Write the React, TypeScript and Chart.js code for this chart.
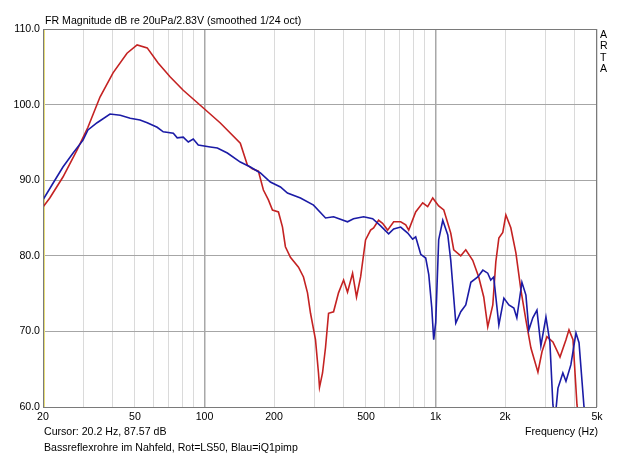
import React, { useEffect, useRef } from "react";
import { Chart, registerables } from "chart.js";

Chart.register(...registerables);

// ---- data (frequency in Hz, level in dB) ----
const redFreq = [20, 21.4, 24.4, 28.1, 31.3, 35.3, 40.2, 46.2, 51.1, 56.5, 63.0, 71.1, 80.9, 98.9, 117.1, 142.9, 153.3, 161.1, 171.1, 179.9, 189.1, 196.9, 209, 217.6, 224, 235.5, 255.2, 268.2, 279.2, 287.7, 302.3, 311.5, 314.7, 324.3, 334.2, 344.4, 362, 380.3, 400, 416, 437.5, 455, 474, 497.9, 523.6, 539.5, 567, 590, 620.6, 659, 706.5, 743, 765.6, 820.6, 880, 924.9, 972.7, 1032, 1086, 1164, 1199, 1286, 1352, 1449, 1538, 1617, 1683, 1770, 1824, 1880, 1955, 2016, 2118, 2228, 2342, 2462, 2588, 2775, 2890, 3035, 3222, 3458, 3670, 3782, 3936, 4095, 4180];
const redDb = [86.45, 87.65, 90.42, 94.0, 97.0, 101.0, 104.2, 106.8, 107.9, 107.5, 105.5, 103.65, 101.9, 99.55, 97.57, 94.9, 92.0, 91.5, 91.2, 88.7, 87.4, 86.06, 85.8, 83.8, 81.2, 79.8, 78.5, 77.2, 75.1, 72.4, 68.9, 64.5, 62.6, 64.5, 67.9, 72.4, 72.6, 75.1, 76.8, 75.2, 77.7, 74.55, 77.2, 82.1, 83.4, 83.7, 84.7, 84.3, 83.4, 84.5, 84.5, 84.1, 83.4, 85.8, 87.0, 86.5, 87.65, 86.6, 86.06, 83.0, 80.8, 80.0, 80.8, 79.4, 77.2, 74.55, 70.6, 73.5, 79.2, 82.35, 83.1, 85.4, 83.7, 80.4, 75.5, 71.5, 67.8, 64.6, 67.3, 69.3, 68.6, 66.6, 68.9, 70.2, 68.9, 60.3, 58.3];

const blueFreq = [20, 22.1, 24.4, 27.0, 29.8, 31.3, 34.3, 39.0, 43.2, 47.7, 52.6, 56.5, 62.4, 66.3, 73.3, 76.2, 80.9, 85.1, 89.4, 94.0, 105.9, 113.7, 125.6, 142.9, 158.0, 174.6, 192.8, 213.2, 228.6, 260.3, 296.5, 334.2, 362, 416, 441.6, 488.4, 534.4, 578.7, 626.7, 659, 706.5, 758, 796, 820.6, 863, 907, 935, 963, 982, 1002, 1032, 1075, 1130, 1164, 1224, 1286, 1352, 1422, 1524, 1603, 1683, 1734, 1786, 1880, 1977, 2077, 2183, 2249, 2366, 2462, 2535, 2637, 2748, 2858, 3006, 3126, 3222, 3290, 3389, 3558, 3670, 3855, 4055, 4180, 4393, 4500];
const blueDb = [87.4, 89.6, 91.75, 93.6, 95.3, 96.65, 97.6, 98.76, 98.6, 98.2, 97.96, 97.6, 97.0, 96.4, 96.2, 95.6, 95.7, 95.05, 95.45, 94.66, 94.4, 94.26, 93.6, 92.4, 91.75, 90.95, 89.75, 89.1, 88.3, 87.65, 86.7, 85.0, 85.16, 84.5, 84.9, 85.16, 84.9, 83.96, 82.9, 83.55, 83.8, 83.0, 82.2, 82.5, 80.2, 79.7, 77.5, 73.2, 68.9, 71.2, 82.1, 84.7, 82.75, 79.4, 71.1, 72.6, 73.5, 76.5, 77.2, 78.1, 77.7, 76.8, 77.2, 70.85, 74.4, 73.5, 73.1, 71.8, 76.5, 74.8, 70.2, 71.8, 72.8, 68.1, 71.9, 68.6, 60.3, 58.3, 62.5, 64.5, 63.4, 65.6, 69.8, 68.5, 60.0, 58.3];

const cursorFreq = [20.2, 20.2];
const cursorDb = [60, 110];

const gridFreqs = [20, 30, 40, 50, 60, 70, 80, 90, 100, 200, 300, 400, 500, 600, 700, 800, 900, 1000, 2000, 3000, 4000, 5000];
const labelFreqs = [20, 50, 100, 200, 500, 1000, 2000, 5000];
const labelTexts = ["20", "50", "100", "200", "500", "1k", "2k", "5k"];
const decadeFreqs = [100, 1000];

const titleText = "FR Magnitude dB re 20uPa/2.83V (smoothed 1/24 oct)";
const cursorText = "Cursor: 20.2 Hz, 87.57 dB";
const noteText = "Bassreflexrohre im Nahfeld, Rot=LS50, Blau=iQ1pimp";
const xTitleText = "Frequency (Hz)";
const sideLetters = ["A", "R", "T", "A"];

const FONT_FAMILY = "'Liberation Sans', Arial, sans-serif";
const FONT_SIZE = 10.6;

const toPts = (xs: number[], ys: number[]) => xs.map((x, i) => ({ x, y: ys[i] }));

const textPlugin = {
  id: "artaTexts",
  afterDraw(chart: any) {
    const { ctx, chartArea } = chart;
    ctx.save();
    // plot frame
    ctx.strokeStyle = "#7a7a7a";
    ctx.lineWidth = 1;
    ctx.strokeRect(
      Math.round(chartArea.left) + 0.5,
      Math.round(chartArea.top) + 0.5,
      Math.round(chartArea.right - chartArea.left) - 1,
      Math.round(chartArea.bottom - chartArea.top)
    );
    ctx.fillStyle = "#000";
    ctx.font = `${FONT_SIZE}px ${FONT_FAMILY}`;
    ctx.textBaseline = "middle";
    ctx.textAlign = "left";
    ctx.fillText(titleText, chartArea.left + 2, chartArea.top - 8);
    ctx.fillText(cursorText, chartArea.left + 1, chartArea.bottom + 25);
    ctx.fillText(noteText, chartArea.left + 1, chartArea.bottom + 41);
    ctx.textAlign = "right";
    ctx.fillText(xTitleText, chartArea.right + 1, chartArea.bottom + 25);
    ctx.textAlign = "left";
    sideLetters.forEach((ch, i) => {
      ctx.fillText(ch, chartArea.right + 3, chartArea.top + 6 + i * 11.3);
    });
    ctx.restore();
  },
};

export default function App() {
  const ref = useRef<HTMLCanvasElement | null>(null);

  useEffect(() => {
    if (!ref.current) return;
    const chart = new Chart(ref.current, {
      type: "line",
      data: {
        datasets: [
          {
            label: "Blau=iQ1pimp",
            data: toPts(blueFreq, blueDb),
            borderColor: "#1b1ba6",
            borderWidth: 1.6,
            pointRadius: 0,
            tension: 0,
            fill: false,
          },
          {
            label: "Rot=LS50",
            data: toPts(redFreq, redDb),
            borderColor: "#c42222",
            borderWidth: 1.6,
            pointRadius: 0,
            tension: 0,
            fill: false,
          },
          {
            label: "Cursor",
            data: toPts(cursorFreq, cursorDb),
            borderColor: "#e6dc7a",
            borderWidth: 2,
            pointRadius: 0,
            fill: false,
          },
        ],
      },
      options: {
        responsive: false,
        animation: false,
        devicePixelRatio: 1,
        parsing: true,
        layout: { padding: { top: 29, right: 43, left: 0, bottom: 0 } },
        plugins: {
          legend: { display: false },
          title: { display: false },
          tooltip: { enabled: false },
        },
        scales: {
          x: {
            type: "logarithmic",
            min: 20,
            max: 5000,
            afterBuildTicks: (scale: any) => {
              scale.ticks = gridFreqs.map((v) => ({ value: v }));
            },
            afterFit: (scale: any) => {
              scale.height = 48;
            },
            ticks: {
              autoSkip: false,
              maxRotation: 0,
              padding: 4,
              color: "#000",
              font: { family: FONT_FAMILY, size: FONT_SIZE },
              callback: (v: any) => {
                const i = labelFreqs.indexOf(Number(v));
                return i >= 0 ? labelTexts[i] : "";
              },
            },
            grid: {
              drawTicks: false,
              color: (c: any) =>
                c.tick && decadeFreqs.includes(c.tick.value) ? "#a8a8a8" : "#dadada",
              lineWidth: (c: any) =>
                c.tick && decadeFreqs.includes(c.tick.value) ? 1.5 : 1,
            },
            border: { display: false },
          },
          y: {
            type: "linear",
            min: 60,
            max: 110,
            afterFit: (scale: any) => {
              scale.width = 43;
            },
            ticks: {
              stepSize: 10,
              padding: 3,
              color: "#000",
              font: { family: FONT_FAMILY, size: FONT_SIZE },
              callback: (v: any) => Number(v).toFixed(1),
            },
            grid: {
              drawTicks: false,
              color: "#a6a6a6",
              lineWidth: 1,
            },
            border: { display: false },
          },
        },
      },
      plugins: [textPlugin],
    } as any);
    return () => chart.destroy();
  }, []);

  return (
    <div style={{ position: "fixed", left: 0, top: 0, width: 640, height: 455, background: "#fff" }}>
      <canvas ref={ref} width={640} height={455} />
    </div>
  );
}
